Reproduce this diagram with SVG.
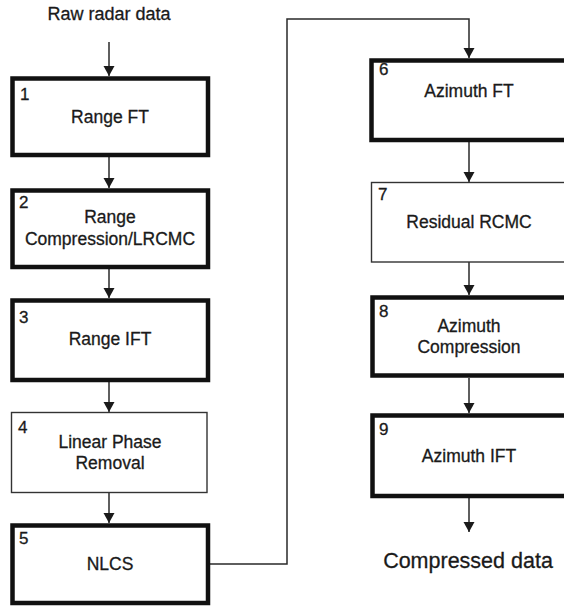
<svg xmlns="http://www.w3.org/2000/svg" width="564" height="607" viewBox="0 0 564 607">
  <style>
    text { font-family: "Liberation Sans", Arial, sans-serif; fill: #1a1a1a; stroke: #1a1a1a; stroke-width: 0.3; }
    .num { font-size: 17px; }
    .lbl { font-size: 17.5px; text-anchor: middle; }
    .io { font-size: 18px; text-anchor: middle; }
    .io-big { font-size: 21.5px; text-anchor: middle; }
    .thick { fill: #fff; stroke: #111; stroke-width: 4.5; }
    .thin { fill: #fff; stroke: #333; stroke-width: 1.4; }
    .conn { fill: none; stroke: #2a2a2a; stroke-width: 1.5; }
  </style>
  <defs>
    <marker id="arrow" markerUnits="userSpaceOnUse" markerWidth="12" markerHeight="12" refX="10" refY="5.5" orient="auto">
      <path d="M0,0 L10,5.5 L0,11 Z" fill="#1a1a1a"/>
    </marker>
  </defs>
  <rect width="564" height="607" fill="#fff"/>

  <!-- connectors -->
  <g id="connectors">
    <line class="conn" x1="109" y1="42" x2="109" y2="76" marker-end="url(#arrow)"/>
    <line class="conn" x1="109" y1="157" x2="109" y2="188" marker-end="url(#arrow)"/>
    <line class="conn" x1="109" y1="269" x2="109" y2="298" marker-end="url(#arrow)"/>
    <line class="conn" x1="109" y1="382" x2="109" y2="412" marker-end="url(#arrow)"/>
    <line class="conn" x1="109" y1="493" x2="109" y2="523" marker-end="url(#arrow)"/>
    <polyline class="conn" points="210,564 287,564 287,19 469,19 469,58" marker-end="url(#arrow)"/>
    <line class="conn" x1="469" y1="142" x2="469" y2="182" marker-end="url(#arrow)"/>
    <line class="conn" x1="469" y1="262" x2="469" y2="295" marker-end="url(#arrow)"/>
    <line class="conn" x1="469" y1="378" x2="469" y2="413" marker-end="url(#arrow)"/>
    <line class="conn" x1="469" y1="498" x2="469" y2="532" marker-end="url(#arrow)"/>
  </g>

  <g id="input">
    <text class="io" x="109" y="20">Raw radar data</text>
  </g>

  <!-- range processing column -->
  <g id="step1">
    <rect class="thick" x="12.5" y="78.5" width="195.5" height="76.5"/>
    <text class="num" x="20" y="100">1</text>
    <text class="lbl" x="110" y="123">Range FT</text>
  </g>
  <g id="step2">
    <rect class="thick" x="12.5" y="190.5" width="195.5" height="76.5"/>
    <text class="num" x="19" y="208">2</text>
    <text class="lbl" x="110" y="223">Range</text>
    <text class="lbl" x="110" y="245">Compression/LRCMC</text>
  </g>
  <g id="step3">
    <rect class="thick" x="12.5" y="300.5" width="195.5" height="79.5"/>
    <text class="num" x="19" y="323">3</text>
    <text class="lbl" x="110" y="345">Range IFT</text>
  </g>
  <g id="step4">
    <rect class="thin" x="11.5" y="412.5" width="195.5" height="80"/>
    <text class="num" x="18" y="433">4</text>
    <text class="lbl" x="110" y="448">Linear Phase</text>
    <text class="lbl" x="110" y="469">Removal</text>
  </g>
  <g id="step5">
    <rect class="thick" x="12.5" y="525.5" width="195.5" height="77.5"/>
    <text class="num" x="19" y="544">5</text>
    <text class="lbl" x="110" y="570">NLCS</text>
  </g>

  <!-- azimuth processing column -->
  <g id="step6">
    <rect class="thick" x="371.5" y="60.5" width="200" height="79.5"/>
    <text class="num" x="379" y="75">6</text>
    <text class="lbl" x="469" y="97">Azimuth FT</text>
  </g>
  <g id="step7">
    <rect class="thin" x="371.5" y="182.5" width="200" height="79.5"/>
    <text class="num" x="378" y="200">7</text>
    <text class="lbl" x="469" y="228">Residual RCMC</text>
  </g>
  <g id="step8">
    <rect class="thick" x="372.5" y="297.5" width="200" height="78"/>
    <text class="num" x="379" y="317">8</text>
    <text class="lbl" x="469" y="332">Azimuth</text>
    <text class="lbl" x="469" y="353">Compression</text>
  </g>
  <g id="step9">
    <rect class="thick" x="372.5" y="415.5" width="200" height="80.5"/>
    <text class="num" x="379" y="435">9</text>
    <text class="lbl" x="469" y="462">Azimuth IFT</text>
  </g>

  <g id="output">
    <text class="io-big" x="468" y="568">Compressed data</text>
  </g>
</svg>
